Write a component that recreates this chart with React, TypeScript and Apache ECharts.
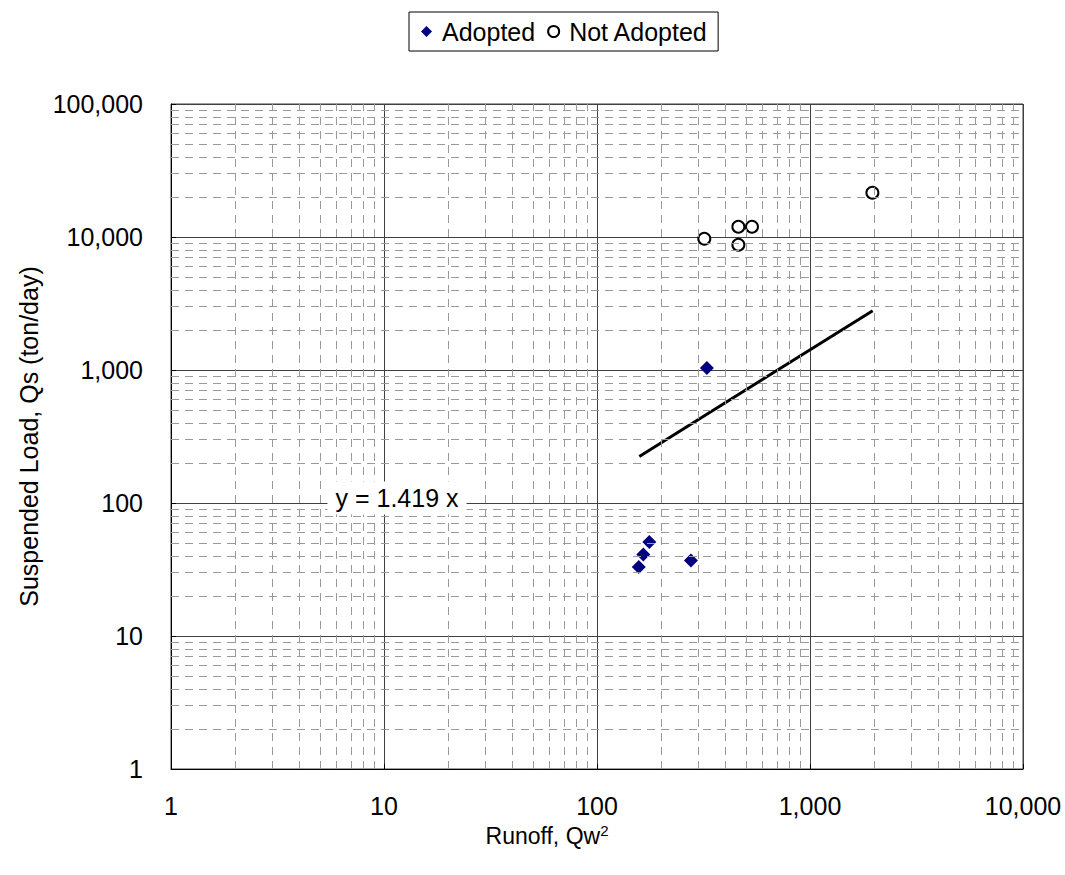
import React, { useEffect, useRef } from "react";
import * as echarts from "echarts";

const xTickLabels = ["1", "10", "100", "1,000", "10,000"];
const yTickLabels = ["1", "10", "100", "1,000", "10,000", "100,000"];

const adoptedPoints: [number, number][] = [
  [328, 1035],
  [176, 51],
  [165, 41],
  [157, 33],
  [276, 37],
];

const notAdoptedPoints: [number, number][] = [
  [319, 9700],
  [461, 11950],
  [534, 11950],
  [461, 8750],
  [1963, 21500],
];

const trendPoints: [number, number][] = [
  [158, 224],
  [1969, 2794],
];

const trendLabel = "y = 1.419 x";

const xDecades = [1, 10, 100, 1000];
const yDecades = [1, 10, 100, 1000, 10000];
const minorMultipliers = [2, 3, 4, 5, 6, 7, 8, 9];

const FONT = 'Arial, "Liberation Sans", sans-serif';

function fmt(v: number): string {
  return String(Math.round(v)).replace(/\B(?=(\d{3})+(?!\d))/g, ",");
}

export default function App() {
  const ref = useRef<HTMLDivElement>(null);

  useEffect(() => {
    if (!ref.current) return;
    const chart = echarts.init(ref.current, undefined, { renderer: "svg" });

    const minorX: any[] = [];
    xDecades.forEach((d) => minorMultipliers.forEach((m) => minorX.push({ xAxis: d * m })));
    const minorY: any[] = [];
    yDecades.forEach((d) => minorMultipliers.forEach((m) => minorY.push({ yAxis: d * m })));

    const option: any = {
      animation: false,
      backgroundColor: "#ffffff",
      textStyle: { fontFamily: FONT },
      grid: {
        left: 171,
        right: 42,
        top: 104,
        bottom: 106,
        show: true,
        borderColor: "#404040",
        borderWidth: 1,
        backgroundColor: "transparent",
      },
      legend: {
        left: 409,
        top: 12,
        padding: [7, 10, 7, 12],
        borderColor: "#000000",
        borderWidth: 1,
        itemGap: 12,
        itemWidth: 11,
        itemHeight: 11,
        data: ["Adopted", "Not Adopted"],
        textStyle: { fontSize: 25, color: "#000", fontFamily: FONT, padding: [0, 0, 0, 5] },
      },
      xAxis: {
        type: "log",
        logBase: 10,
        min: 1,
        max: 10000,
        name: "{a|Runoff, Qw}{s|2}",
        nameLocation: "middle",
        nameGap: 47,
        nameTextStyle: {
          padding: [0, 100, 0, 0],
          rich: {
            a: { fontSize: 23, color: "#000", fontFamily: FONT },
            s: { fontSize: 15, color: "#000", fontFamily: FONT, verticalAlign: "top", padding: [0, 0, 12, 0] },
          },
        },
        axisLine: { show: true, lineStyle: { color: "#000", width: 1 } },
        axisTick: { show: true, inside: true, length: 5, lineStyle: { color: "#000" } },
        axisLabel: {
          fontSize: 25,
          color: "#000",
          margin: 24,
          fontFamily: FONT,
          formatter: (v: number) => {
            const i = Math.round(Math.log10(v));
            return xTickLabels[i] ?? fmt(v);
          },
        },
        splitLine: { show: true, lineStyle: { color: "#404040", width: 1 } },
      },
      yAxis: {
        type: "log",
        logBase: 10,
        min: 1,
        max: 100000,
        name: "Suspended Load, Qs (ton/day)",
        nameLocation: "middle",
        nameGap: 126,
        nameTextStyle: { fontSize: 25, color: "#000", fontFamily: FONT },
        axisLine: { show: true, lineStyle: { color: "#000", width: 1 } },
        axisTick: { show: true, inside: true, length: 5, lineStyle: { color: "#000" } },
        axisLabel: {
          fontSize: 25,
          color: "#000",
          margin: 28,
          fontFamily: FONT,
          formatter: (v: number) => {
            const i = Math.round(Math.log10(v));
            return yTickLabels[i] ?? fmt(v);
          },
        },
        splitLine: { show: true, lineStyle: { color: "#404040", width: 1 } },
      },
      series: [
        {
          name: "minorGrid",
          type: "line",
          data: [],
          silent: true,
          z: 1,
          markLine: {
            silent: true,
            symbol: ["none", "none"],
            label: { show: false },
            lineStyle: { color: "#9a9a9a", type: [8, 6], width: 1, opacity: 1 },
            emphasis: { disabled: true },
            data: [...minorX, ...minorY],
          },
        },
        {
          name: "trend",
          type: "line",
          data: trendPoints,
          symbol: "none",
          silent: true,
          z: 3,
          lineStyle: { color: "#000", width: 3 },
        },
        {
          name: "Adopted",
          type: "scatter",
          data: adoptedPoints,
          symbol: "diamond",
          symbolSize: 14,
          z: 4,
          itemStyle: { color: "#000080", opacity: 1 },
        },
        {
          name: "Not Adopted",
          type: "scatter",
          data: notAdoptedPoints,
          symbol: "circle",
          symbolSize: 12,
          z: 4,
          itemStyle: { color: "#ffffff", borderColor: "#000000", borderWidth: 2, opacity: 1 },
        },
      ],
      graphic: [
        {
          type: "text",
          x: 397,
          y: 498,
          z: 10,
          style: {
            text: trendLabel,
            fontSize: 25,
            fontFamily: FONT,
            fill: "#000",
            align: "center",
            verticalAlign: "middle",
            backgroundColor: "#fff",
            padding: [4, 8, 4, 8],
          },
        },
      ],
    };

    chart.setOption(option);
    return () => chart.dispose();
  }, []);

  return (
    <div
      ref={ref}
      style={{ position: "fixed", left: 0, top: 0, width: 1065, height: 875, background: "#fff" }}
    />
  );
}
